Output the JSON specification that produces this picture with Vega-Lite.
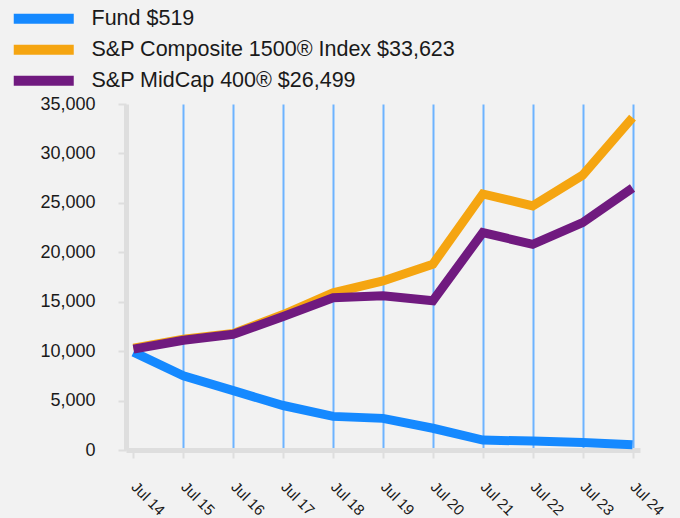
{
  "$schema": "https://vega.github.io/schema/vega-lite/v6.json",
  "width": 514,
  "height": 346,
  "autosize": "none",
  "padding": {"left": 126, "top": 104, "right": 40, "bottom": 68},
  "background": "#F2F2F2",
  "config": {
    "font": "Liberation Sans",
    "view": {"stroke": null},
    "axis": {"labelFont": "Liberation Sans", "labelColor": "#1a1a1a"}
  },
  "data": {
    "values": [
      {"date": "Jul 14", "series": "Fund $519", "value": 9900},
      {"date": "Jul 15", "series": "Fund $519", "value": 7500},
      {"date": "Jul 16", "series": "Fund $519", "value": 6000},
      {"date": "Jul 17", "series": "Fund $519", "value": 4500},
      {"date": "Jul 18", "series": "Fund $519", "value": 3400},
      {"date": "Jul 19", "series": "Fund $519", "value": 3200},
      {"date": "Jul 20", "series": "Fund $519", "value": 2200},
      {"date": "Jul 21", "series": "Fund $519", "value": 1000},
      {"date": "Jul 22", "series": "Fund $519", "value": 900},
      {"date": "Jul 23", "series": "Fund $519", "value": 750},
      {"date": "Jul 24", "series": "Fund $519", "value": 519},
      {"date": "Jul 14", "series": "S&P Composite 1500® Index $33,623", "value": 10300},
      {"date": "Jul 15", "series": "S&P Composite 1500® Index $33,623", "value": 11200},
      {"date": "Jul 16", "series": "S&P Composite 1500® Index $33,623", "value": 11800},
      {"date": "Jul 17", "series": "S&P Composite 1500® Index $33,623", "value": 13700},
      {"date": "Jul 18", "series": "S&P Composite 1500® Index $33,623", "value": 15900},
      {"date": "Jul 19", "series": "S&P Composite 1500® Index $33,623", "value": 17100},
      {"date": "Jul 20", "series": "S&P Composite 1500® Index $33,623", "value": 18800},
      {"date": "Jul 21", "series": "S&P Composite 1500® Index $33,623", "value": 25900},
      {"date": "Jul 22", "series": "S&P Composite 1500® Index $33,623", "value": 24700},
      {"date": "Jul 23", "series": "S&P Composite 1500® Index $33,623", "value": 27800},
      {"date": "Jul 24", "series": "S&P Composite 1500® Index $33,623", "value": 33623},
      {"date": "Jul 14", "series": "S&P MidCap 400® $26,499", "value": 10200},
      {"date": "Jul 15", "series": "S&P MidCap 400® $26,499", "value": 11100},
      {"date": "Jul 16", "series": "S&P MidCap 400® $26,499", "value": 11700},
      {"date": "Jul 17", "series": "S&P MidCap 400® $26,499", "value": 13500},
      {"date": "Jul 18", "series": "S&P MidCap 400® $26,499", "value": 15400},
      {"date": "Jul 19", "series": "S&P MidCap 400® $26,499", "value": 15600},
      {"date": "Jul 20", "series": "S&P MidCap 400® $26,499", "value": 15100},
      {"date": "Jul 21", "series": "S&P MidCap 400® $26,499", "value": 22000},
      {"date": "Jul 22", "series": "S&P MidCap 400® $26,499", "value": 20800},
      {"date": "Jul 23", "series": "S&P MidCap 400® $26,499", "value": 23000},
      {"date": "Jul 24", "series": "S&P MidCap 400® $26,499", "value": 26499}
    ]
  },
  "mark": {"type": "line", "strokeWidth": 9, "strokeCap": "butt", "strokeJoin": "miter"},
  "encoding": {
    "x": {
      "field": "date",
      "type": "ordinal",
      "scale": {"type": "point", "padding": 0.15},
      "axis": {
        "title": null,
        "grid": true,
        "gridColor": {"condition": {"test": "datum.index === 0", "value": "transparent"}, "value": "#6DB3FF"},
        "gridWidth": 2,
        "domainColor": "#DEDEDE",
        "domainWidth": 5,
        "tickColor": "#DEDEDE",
        "tickWidth": 2,
        "tickSize": 8,
        "labelAngle": 45,
        "labelAlign": "left",
        "labelBaseline": "middle",
        "labelFontSize": 15,
        "labelPadding": 26
      }
    },
    "y": {
      "field": "value",
      "type": "quantitative",
      "scale": {"domain": [0, 35000], "nice": false},
      "axis": {
        "title": null,
        "grid": false,
        "values": [0, 5000, 10000, 15000, 20000, 25000, 30000, 35000],
        "format": ",d",
        "domainColor": "#DEDEDE",
        "domainWidth": 5,
        "tickColor": "#DEDEDE",
        "tickWidth": 2,
        "tickSize": 8,
        "labelFontSize": 18,
        "labelPadding": 23
      }
    },
    "color": {
      "field": "series",
      "type": "nominal",
      "scale": {
        "domain": ["Fund $519", "S&P Composite 1500® Index $33,623", "S&P MidCap 400® $26,499"],
        "range": ["#1589FF", "#F5A511", "#701A7F"]
      },
      "legend": {
        "title": null,
        "orient": "none",
        "legendX": -93,
        "legendY": -96,
        "symbolType": "M-6,0H6",
        "symbolSize": 100,
        "symbolStrokeWidth": 10,
        "labelFontSize": 21.5,
        "labelColor": "#1a1a1a",
        "labelOffset": 37,
        "rowPadding": -10,
        "labelLimit": 600
      }
    }
  }
}
